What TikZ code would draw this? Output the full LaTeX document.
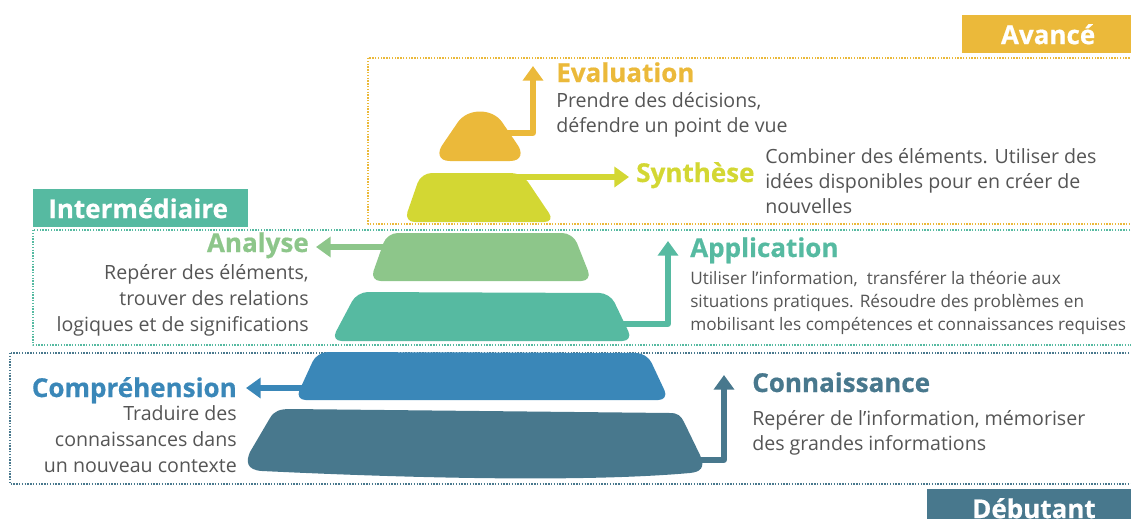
\documentclass[tikz,border=0pt]{standalone}
\usepackage{fontspec}
\setmainfont{Open Sans}
\newfontfamily\heavyfont[FakeBold=0.6]{Open Sans}
\usetikzlibrary{arrows.meta}
\definecolor{avance}{HTML}{EBB93A}
\definecolor{synth}{HTML}{D3D733}
\definecolor{analy}{HTML}{8DC68A}
\definecolor{appli}{HTML}{56BAA1}
\definecolor{compr}{HTML}{3A87B8}
\definecolor{conna}{HTML}{48788D}
\definecolor{txtgray}{HTML}{555555}
\begin{document}
\begin{tikzpicture}[x=0.75pt, y=-0.75pt, >={Triangle[width=15pt,length=11pt]}, line join=round,
    frame/.style={densely dotted, line width=1.1pt, draw=#1},
    level/.style={fill=#1, rounded corners=8pt},
    arr/.style={->, draw=#1, line width=3.8pt},
    title/.style={font=\fontsize{19.5}{19.5}\heavyfont\bfseries\selectfont, text=#1, inner sep=0pt},
    body/.style={font=\fontsize{14.7}{18.75}\selectfont, text=txtgray, inner sep=0pt},
    badge/.style={fill=#1, text=white, font=\fontsize{19.5}{19.5}\heavyfont\bfseries\selectfont, minimum height=28.5pt, inner sep=0pt, anchor=north west}]
    \useasboundingbox (0,0) rectangle (1131,518);
    % frames and level badges
    \draw[frame=avance] (368,58) rectangle (1140,224);
    \draw[frame=appli] (33,230) rectangle (1140,345);
    \draw[frame=conna] (10,353) rectangle (1140,484);
    \node[badge=avance, minimum width=126.75pt] (avance) at (962,15) {\hspace*{2pt}Avancé};
    \node[badge=appli, minimum width=161.25pt] (inter) at (33,189) {Intermédiaire\hspace*{4pt}};
    \node[badge=conna, minimum width=153pt] (debut) at (927,489) {\hspace*{7pt}Débutant};
    % named ends of the connectors
    \coordinate (eva-r) at (500,133);   \coordinate (eva-tip) at (533,66);
    \coordinate (syn-r) at (515,177);   \coordinate (syn-tip) at (629,177);
    \coordinate (ana-l) at (390,247);   \coordinate (ana-tip) at (316,247);
    \coordinate (app-r) at (620,324);   \coordinate (app-tip) at (668,241);
    \coordinate (com-l) at (305,388);   \coordinate (com-tip) at (246,388);
    \coordinate (con-r) at (695,460);   \coordinate (con-tip) at (724,375);
    \draw[arr=avance] (eva-r) -| (eva-tip);
    \draw[arr=synth] (syn-r) -- (syn-tip);
    \draw[arr=analy] (ana-l) -- (ana-tip);
    \draw[arr=appli] (app-r) -| (app-tip);
    \draw[arr=compr] (com-l) -- (com-tip);
    \draw[arr=conna] (con-r) -| (con-tip);
    % the pyramid
    \fill[avance] (450,161) -- (510,161) .. controls (522,161) and (523,152) .. (517,144)
        -- (502,122) .. controls (492,108) and (468,108) .. (458,122)
        -- (443,144) .. controls (437,152) and (438,161) .. (450,161) -- cycle;
    \fill[level=synth] (404,222) -- (421,173) -- (522,173) -- (555,222) -- cycle;
    \fill[level=analy] (370,281) -- (387,233) -- (573,233) -- (592,281) -- cycle;
    \fill[level=appli] (331,341) -- (357,292) -- (610,293) -- (633,341) -- cycle;
    \fill[level=compr] (295,400) -- (317,352) -- (647,353) -- (669,400) -- cycle;
    \fill[conna] (262,471) .. controls (246,470) and (246,461) .. (250,452) -- (270,418)
        .. controls (274,411) and (280,409) .. (290,409) -- (670,413)
        .. controls (678,413) and (681,416) .. (684,422) -- (700,455)
        .. controls (706,468) and (700,472) .. (690,473)
        .. controls (600,481) and (450,480) .. (262,471) -- cycle;
    % titles
    \node[title=avance, anchor=base west] (evaluation) at (556,82) {Evaluation};
    \node[title=synth, anchor=base west] (synthese) at (636,182) {Synthèse};
    \node[title=analy, anchor=base east] (analyse) at (309,252) {Analyse};
    \node[title=appli, anchor=base west] (application) at (690,257) {Application};
    \node[title=compr, anchor=base east] (comprehension) at (237,397) {Compréhension};
    \node[title=conna, anchor=base west] (connaissance) at (752,392) {Connaissance};
    % descriptions
    \node[body, anchor=north west, align=left] (eva-txt) at (556,92)
        {Prendre des décisions,\\défendre un point de vue};
    \node[body, anchor=north west, align=left] (syn-txt) at (765,148)
        {Combiner des éléments. Utiliser des\\idées disponibles pour en créer de\\nouvelles};
    \node[body, anchor=north east, align=right, font=\fontsize{14.7}{19.5}\selectfont] (ana-txt) at (309,264)
        {Repérer des éléments,\\trouver des relations\\logiques et de significations};
    \node[body, anchor=north west, align=left, font=\fontsize{12.9}{17.25}\selectfont] (app-txt) at (690,271)
        {Utiliser l’information,\ \ transférer la théorie aux\\situations pratiques. Résoudre des problèmes en\\mobilisant les compétences et connaissances requises};
    \node[body, anchor=north east, align=right, font=\fontsize{14.7}{19.5}\selectfont] (com-txt) at (237,405)
        {Traduire des\\connaissances dans\hspace*{3.5pt}\\un nouveau contexte};
    \node[body, anchor=north west, align=left] (con-txt) at (752,410)
        {Repérer de l’information, mémoriser\\des grandes informations};
\end{tikzpicture}
\end{document}
